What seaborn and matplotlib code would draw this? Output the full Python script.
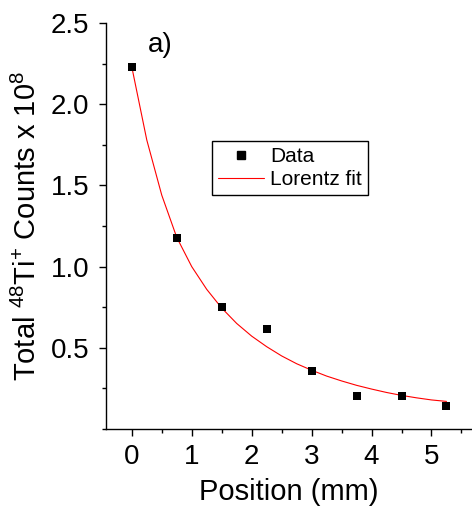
import numpy as np
import pandas as pd
import seaborn as sns
import matplotlib.pyplot as plt
from matplotlib.lines import Line2D
from matplotlib.ticker import MultipleLocator

# measured points
position = [0, 0.75, 1.5, 2.25, 3.0, 3.75, 4.5, 5.25]
counts = [2.23, 1.177, 0.75, 0.615, 0.357, 0.205, 0.201, 0.140]

# Lorentz fit curve
fit_x = [0, 0.25, 0.5, 0.75, 1.0, 1.25, 1.5, 1.75, 2.0, 2.25, 2.5, 2.75,
         3.0, 3.25, 3.5, 3.75, 4.0, 4.25, 4.5, 4.75, 5.0, 5.25]
fit_y = [2.23, 1.78, 1.44, 1.18, 1.00, 0.86, 0.745, 0.65, 0.572, 0.507, 0.45, 0.402,
         0.362, 0.326, 0.296, 0.269, 0.246, 0.225, 0.207, 0.192, 0.179, 0.170]

data = pd.DataFrame({'pos': position, 'counts': counts})
fit = pd.DataFrame({'pos': fit_x, 'counts': fit_y})

sns.set_style('ticks')
plt.rcParams['font.family'] = ['Liberation Sans', 'DejaVu Sans']
plt.rcParams['mathtext.fontset'] = 'custom'
plt.rcParams['mathtext.rm'] = 'Liberation Sans'
plt.rcParams['mathtext.it'] = 'Liberation Sans'
for key in ['text.color', 'axes.labelcolor', 'xtick.color', 'ytick.color',
            'xtick.labelcolor', 'ytick.labelcolor', 'axes.edgecolor']:
    plt.rcParams[key] = 'black'

fig = plt.figure(figsize=(4.72, 5.08), dpi=100)
ax = fig.add_axes([0.2246, 0.1555, 0.7734, 0.7992])

sns.lineplot(x='pos', y='counts', data=fit, color='red', linewidth=0.8, ax=ax)
sns.scatterplot(x='pos', y='counts', data=data, marker='s', s=36, color='black',
                edgecolor='black', linewidth=0, zorder=3, ax=ax)

ax.set_xlim(-0.43, 5.66)
ax.set_ylim(0, 2.5)
ax.xaxis.set_major_locator(MultipleLocator(1))
ax.xaxis.set_minor_locator(MultipleLocator(0.5))
ax.yaxis.set_minor_locator(MultipleLocator(0.25))
ax.set_yticks([0.5, 1.0, 1.5, 2.0, 2.5])
ax.set_yticklabels(['0.5', '1.0', '1.5', '2.0', '2.5'])

ax.tick_params(which='major', length=5, width=1, labelsize=20, color='black')
ax.tick_params(axis='x', which='major', pad=5.5)
ax.tick_params(axis='y', which='major', pad=7)
ax.tick_params(which='minor', length=3, width=1, color='black')
for side in ['top', 'right']:
    ax.spines[side].set_visible(False)
for side in ['left', 'bottom']:
    ax.spines[side].set_linewidth(1)
    ax.spines[side].set_color('black')

ax.set_xlabel('Position (mm)', fontsize=21, labelpad=6)
ax.set_ylabel('Total $^{48}$Ti$^{+}$ Counts x 10$^{8}$', fontsize=21, labelpad=6)

ax.text(0.27, 2.32, 'a)', fontsize=20)

handles = [Line2D([], [], marker='s', linestyle='none', color='black', markersize=6),
           Line2D([], [], color='red', linewidth=0.8)]
leg = ax.legend(handles, ['Data', 'Lorentz fit'], loc='upper left',
                bbox_to_anchor=(0.29, 0.71), borderaxespad=0, fontsize=15,
                frameon=True, fancybox=False, edgecolor='black', framealpha=1,
                handlelength=2.2, handletextpad=0.3, borderpad=0.3, labelspacing=0.2)
leg.get_frame().set_linewidth(1)

plt.savefig('out.png', dpi=100)
